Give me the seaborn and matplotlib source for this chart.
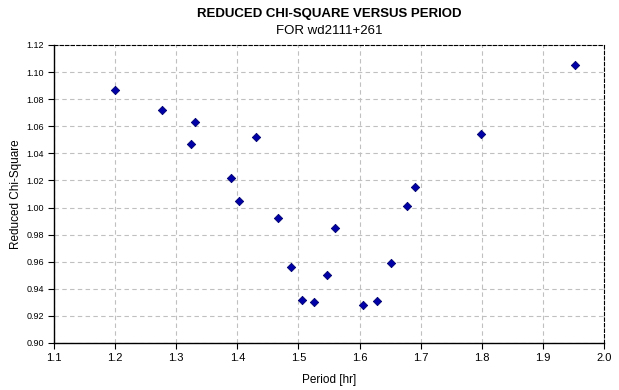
import pandas as pd
import seaborn as sns
import matplotlib
matplotlib.use("Agg")
import matplotlib.pyplot as plt

# period [hr] and reduced chi-square
period = [1.200, 1.276, 1.325, 1.331, 1.390, 1.402, 1.430, 1.467, 1.487, 1.506,
          1.526, 1.547, 1.560, 1.605, 1.628, 1.652, 1.677, 1.691, 1.799, 1.953]
chi2 = [1.087, 1.072, 1.047, 1.063, 1.022, 1.005, 1.052, 0.992, 0.956, 0.932,
        0.930, 0.950, 0.985, 0.928, 0.931, 0.959, 1.001, 1.015, 1.054, 1.105]

x_ticks = [1.1, 1.2, 1.3, 1.4, 1.5, 1.6, 1.7, 1.8, 1.9, 2.0]
y_ticks = [0.90, 0.92, 0.94, 0.96, 0.98, 1.00, 1.02, 1.04, 1.06, 1.08, 1.10, 1.12]

df = pd.DataFrame({'period': period, 'chi2': chi2})

sns.set_style('white')
plt.rcParams['font.family'] = ['Liberation Sans', 'DejaVu Sans']
plt.rcParams['text.color'] = 'black'
plt.rcParams['axes.labelcolor'] = 'black'
plt.rcParams['xtick.color'] = 'black'
plt.rcParams['ytick.color'] = 'black'

fig = plt.figure(figsize=(6.19, 3.90), dpi=100)
ax = fig.add_axes([54 / 619, 1 - 343 / 390, 550 / 619, 298 / 390])

sns.scatterplot(x='period', y='chi2', data=df, ax=ax, marker='D', s=18,
                color='#0000a8', edgecolor='#000070', linewidth=0.6, zorder=3)

ax.set_xlim(1.1, 2.0)
ax.set_ylim(0.90, 1.12)
ax.set_xticks(x_ticks)
ax.set_xticklabels([f'{v:.1f}' for v in x_ticks], fontsize=8)
ax.set_yticks(y_ticks)
ax.set_yticklabels([f'{v:.2f}' for v in y_ticks], fontsize=6.5)
ax.tick_params(axis='both', direction='out', length=4, width=0.8, color='black',
               labelcolor='black', left=True, bottom=True, pad=3)

ax.grid(True, color='#c0c0c0', linestyle=(0, (4, 3)), linewidth=0.8)
ax.set_axisbelow(True)

for side in ['left', 'bottom']:
    ax.spines[side].set_color('black')
    ax.spines[side].set_linewidth(1.0)
for side in ['top', 'right']:
    ax.spines[side].set_color('black')
    ax.spines[side].set_linewidth(0.8)
    ax.spines[side].set_linestyle((0, (3, 2)))

ax.set_xlabel('Period [hr]', fontsize=8.5, labelpad=8)
ax.set_ylabel('Reduced Chi-Square', fontsize=8.5, labelpad=3)

fig.text(329 / 619, 1 - 14 / 390, 'REDUCED CHI-SQUARE VERSUS PERIOD',
         ha='center', va='center', fontsize=9.5, fontweight='bold')
fig.text(329 / 619, 1 - 31 / 390, 'FOR wd2111+261',
         ha='center', va='center', fontsize=9.5)

fig.savefig('out.png', dpi=100)
